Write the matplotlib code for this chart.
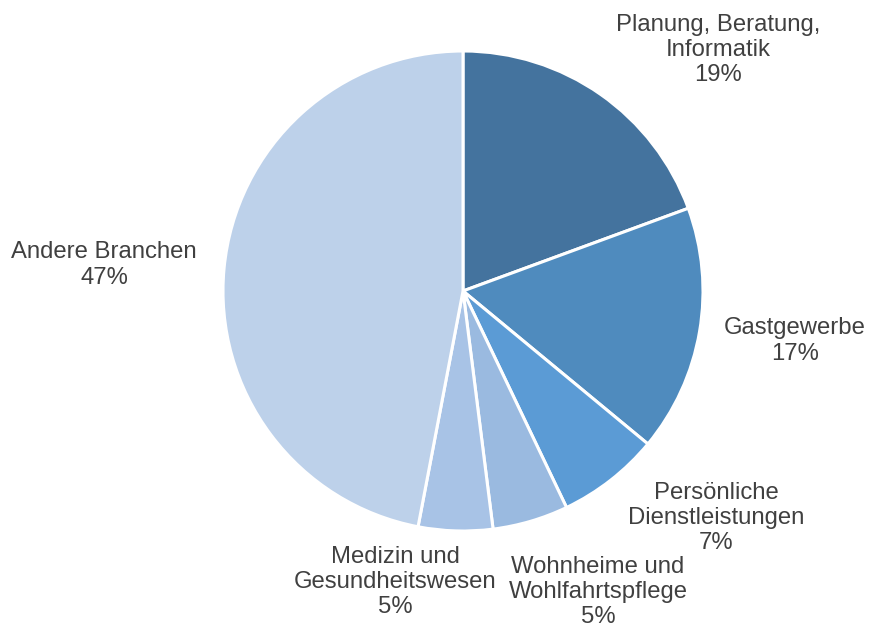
import matplotlib.pyplot as plt

# branch shares (percent), clockwise from 12 o'clock
labels = ['Planung, Beratung,\nInformatik', 'Gastgewerbe', 'Persönliche\nDienstleistungen',
          'Wohnheime und\nWohlfahrtspflege', 'Medizin und\nGesundheitswesen', 'Andere Branchen']
shares = [19.4, 16.6, 6.9, 5.1, 5.0, 47.0]
colors = ['#44739e', '#4f8bbe', '#5b9bd5', '#9abae0', '#a8c3e6', '#bdd1ea']

# label centres, in units of the pie radius
label_pos = [(1.0625, 1.004), (1.383, -0.208), (1.054, -0.946),
             (0.5625, -1.254), (-0.283, -1.2125), (-1.496, 0.108)]

plt.rcParams['font.family'] = ['Liberation Sans', 'DejaVu Sans']

fig = plt.figure(figsize=(8.69, 6.28), dpi=100)
ax = fig.add_axes([0, 0, 1, 1])
ax.pie(shares, colors=colors, startangle=90, counterclock=False, radius=1,
       wedgeprops=dict(edgecolor='white', linewidth=2.2))

for lab, val, (x, y) in zip(labels, shares, label_pos):
    ax.text(x, y, lab + '\n' + '%d%%' % round(val), ha='center', va='center',
            fontsize=17.2, color='#404040', linespacing=1.2)

# centre at (463, 291) px, radius 240 px
ax.set_xlim(-463 / 240, (869 - 463) / 240)
ax.set_ylim(-(628 - 291) / 240, 291 / 240)
ax.set_aspect('auto')
ax.axis('off')

fig.savefig('out.png', dpi=100)
